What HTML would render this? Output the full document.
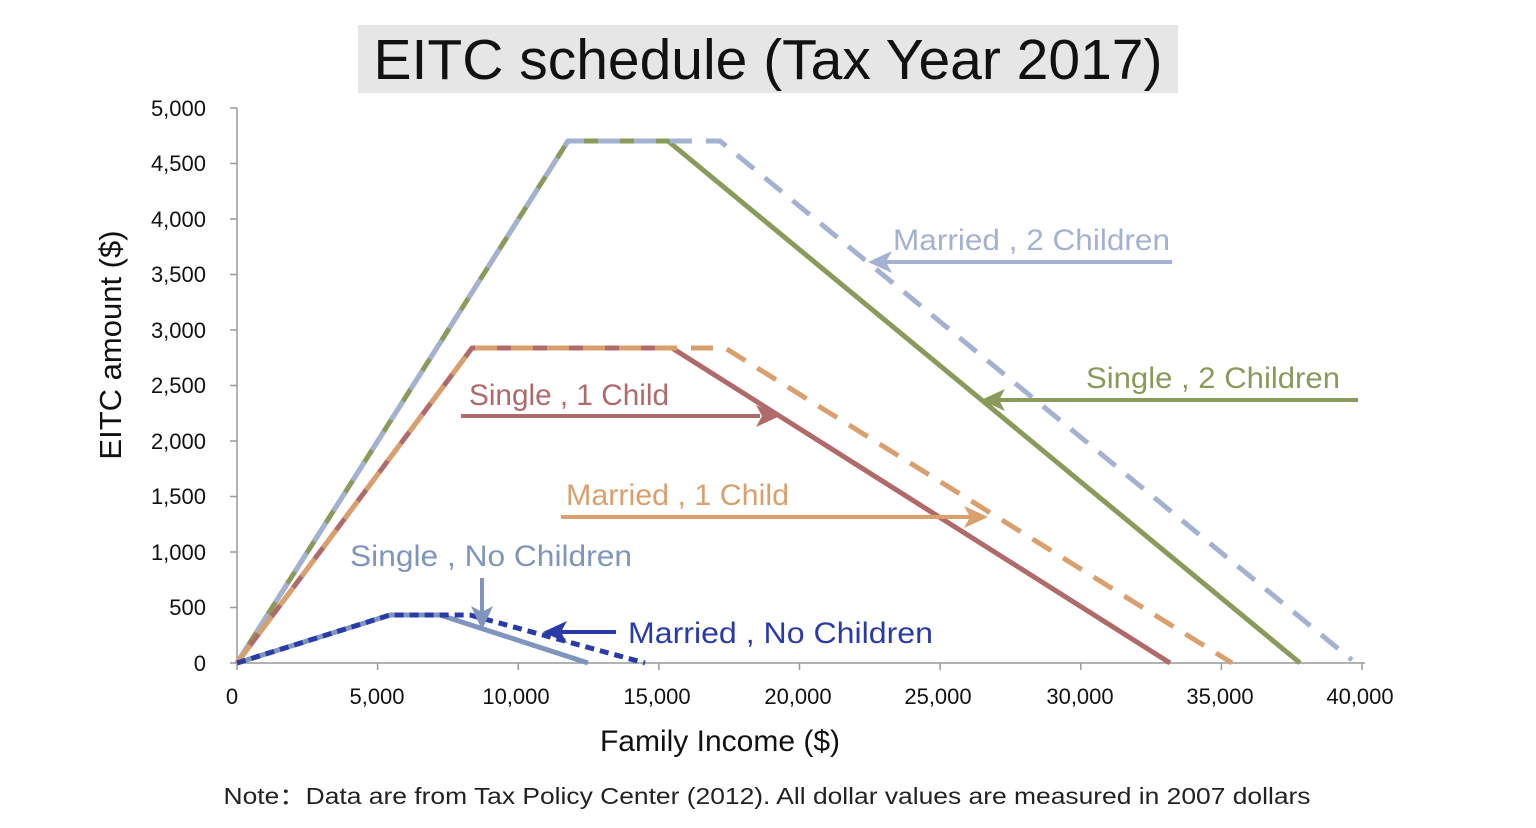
<!DOCTYPE html>
<html><head><meta charset="utf-8"><style>
html,body{margin:0;padding:0;background:#fff;width:1536px;height:828px;overflow:hidden}
svg{display:block}
text{font-family:"Liberation Sans","Noto Sans CJK SC",sans-serif}
</style></head><body>
<svg width="1536" height="828" viewBox="0 0 1536 828" xmlns="http://www.w3.org/2000/svg">
<rect x="358" y="25" width="820" height="68" fill="#e6e6e6"/>
<text x="768" y="79" font-size="57" text-anchor="middle" fill="#111">EITC schedule (Tax Year 2017)</text>
<g stroke="#999" stroke-width="1.5" fill="none">
<line x1="237" y1="108" x2="237" y2="663"/>
<line x1="237" y1="663" x2="1365" y2="663"/>
<path d="M230 108H237M230 163.5H237M230 219H237M230 274.5H237M230 330H237M230 385.5H237M230 441H237M230 496.5H237M230 552H237M230 607.5H237M230 663H237"/>
<path d="M237 663V670M377.6 663V670M518.3 663V670M658.9 663V670M799.5 663V670M940.1 663V670M1080.8 663V670M1221.4 663V670M1362 663V670"/>
</g>
<g font-size="22" fill="#111" text-anchor="end">
<text x="206" y="116">5,000</text><text x="206" y="171">4,500</text><text x="206" y="227">4,000</text><text x="206" y="282">3,500</text><text x="206" y="338">3,000</text><text x="206" y="393">2,500</text><text x="206" y="449">2,000</text><text x="206" y="504">1,500</text><text x="206" y="560">1,000</text><text x="206" y="615">500</text><text x="206" y="671">0</text>
</g>
<g font-size="22" fill="#111" text-anchor="middle">
<text x="232" y="704">0</text><text x="377" y="704">5,000</text><text x="516" y="704">10,000</text><text x="657" y="704">15,000</text><text x="798" y="704">20,000</text><text x="938" y="704">25,000</text><text x="1080" y="704">30,000</text><text x="1220" y="704">35,000</text><text x="1360" y="704">40,000</text>
</g>
<text x="720" y="751" font-size="30" text-anchor="middle" fill="#111">Family Income ($)</text>
<text transform="translate(121,345) rotate(-90)" font-size="31" text-anchor="middle" fill="#111">EITC amount ($)</text>
<text x="767" y="804" font-size="23" text-anchor="middle" fill="#222" textLength="1087" lengthAdjust="spacingAndGlyphs">Note：Data are from Tax Policy Center (2012). All dollar values are measured in 2007 dollars</text>
<g fill="none" stroke-width="5" stroke-linejoin="round">
<polyline points="237,663 568,141 668,141 1300,663" stroke="#8a9a5b"/>
<polyline points="237,663 568,141 720,141 1352,660" stroke="#a3b2d0" stroke-dasharray="22,14"/>
<polyline points="237,663 472,348 672,348 1170,663" stroke="#b06a6a"/>
<polyline points="237,663 472,348 725,348 1232,663" stroke="#d9a06e" stroke-dasharray="22,14"/>
<polyline points="237,663 390,615 440,615 588,663" stroke="#7f95bd"/>
<polyline points="237,663 390,615 470,615 645,663" stroke="#2a3aa8" stroke-dasharray="9,6"/>
</g>
<g stroke-width="4" fill="none">
<line x1="1172" y1="262" x2="885" y2="262" stroke="#a3b2d0"/>
<line x1="1358" y1="400" x2="998" y2="400" stroke="#8a9a5b"/>
<line x1="461" y1="416" x2="760" y2="416" stroke="#b06a6a"/>
<line x1="561" y1="517" x2="970" y2="517" stroke="#d9a06e"/>
<line x1="482" y1="578" x2="482" y2="614" stroke="#7f95bd"/>
<line x1="616" y1="632" x2="560" y2="632" stroke="#2a3aa8"/>
</g>
<g stroke="none">
<path d="M868,262 L892,251 L886,262 L892,273z" fill="#a3b2d0"/>
<path d="M981,400 L1005,389 L999,400 L1005,411z" fill="#8a9a5b"/>
<path d="M780,416 L756,405 L762,416 L756,427z" fill="#b06a6a"/>
<path d="M988,517 L964,506 L970,517 L964,528z" fill="#d9a06e"/>
<path d="M482,630 L471,606 L482,612 L493,606z" fill="#7f95bd"/>
<path d="M543,632 L567,621 L561,632 L567,643z" fill="#2a3aa8"/>
</g>
<g font-size="30">
<text x="893" y="250" fill="#a3b2d0" textLength="277" lengthAdjust="spacingAndGlyphs">Married , 2 Children</text>
<text x="1086" y="388" fill="#8a9a5b" textLength="254" lengthAdjust="spacingAndGlyphs">Single , 2 Children</text>
<text x="469" y="405" fill="#b06a6a" textLength="200" lengthAdjust="spacingAndGlyphs">Single , 1 Child</text>
<text x="566" y="505" fill="#d9a06e" textLength="223" lengthAdjust="spacingAndGlyphs">Married , 1 Child</text>
<text x="350" y="566" fill="#7f95bd" textLength="282" lengthAdjust="spacingAndGlyphs">Single , No Children</text>
<text x="628" y="643" fill="#2a3aa8" textLength="305" lengthAdjust="spacingAndGlyphs">Married , No Children</text>
</g>
</svg>
</body></html>
